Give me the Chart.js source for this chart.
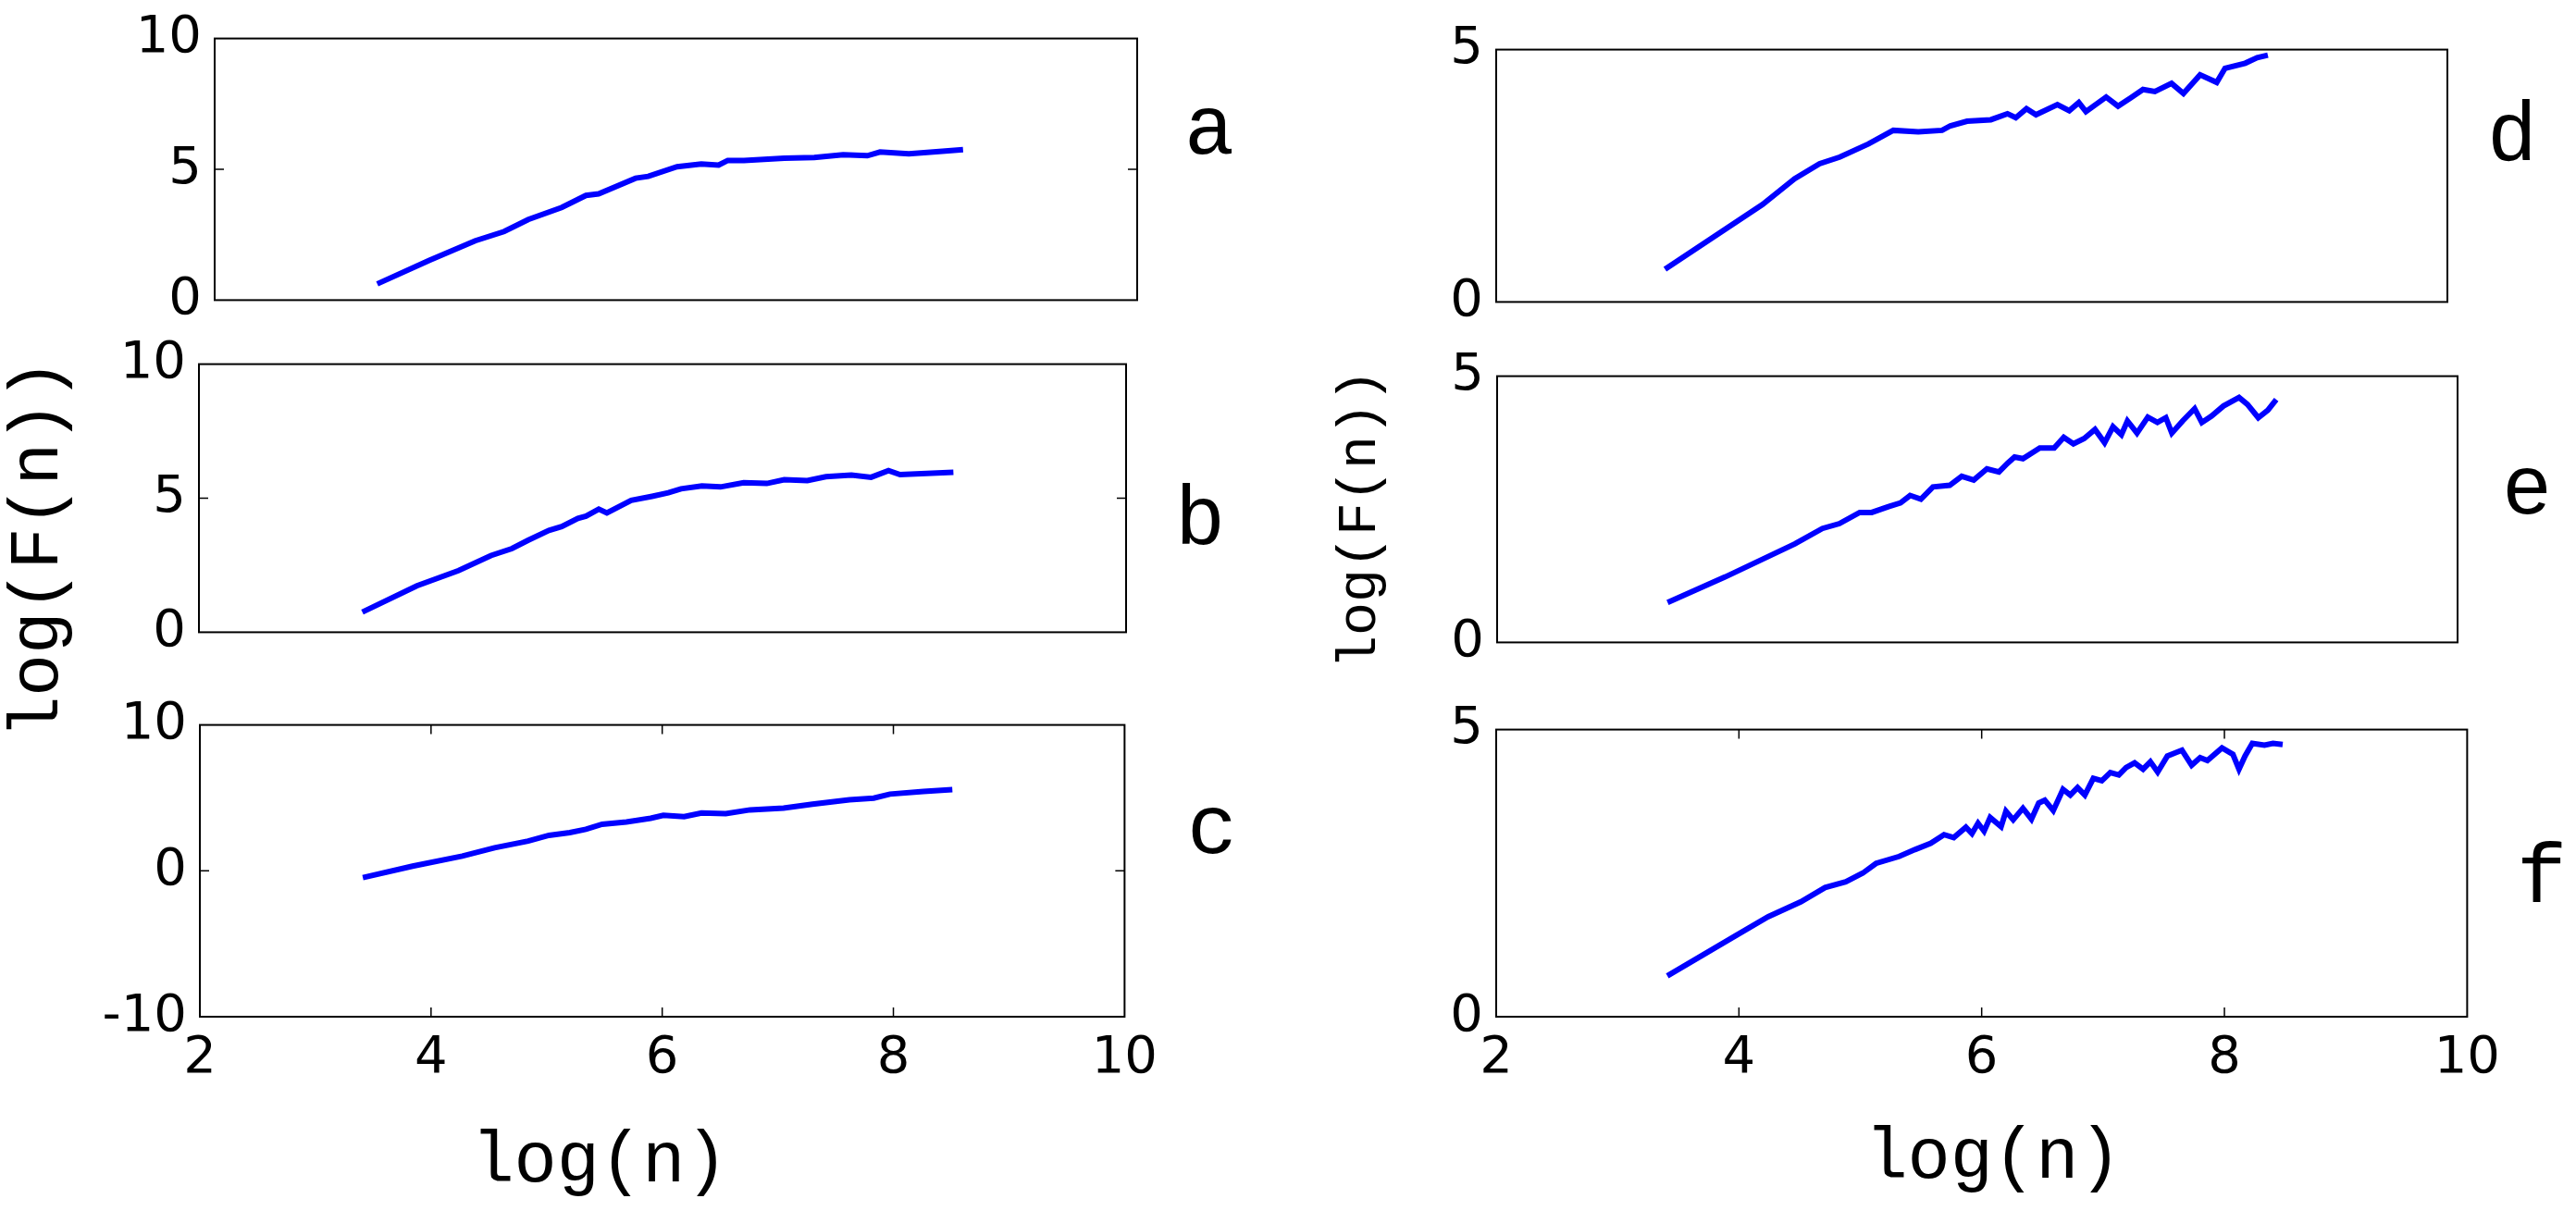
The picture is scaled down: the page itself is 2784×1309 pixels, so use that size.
<!DOCTYPE html>
<html>
<head>
<meta charset="utf-8">
<script src="https://cdn.jsdelivr.net/npm/chart.js@4/dist/chart.umd.min.js"></script>
<style>
  html, body { margin: 0; padding: 0; background: #fff; }
  #page { position: relative; width: 2784px; height: 1309px; overflow: hidden; background: #fff; }
  .panel { position: absolute; }
  .txt { position: absolute; white-space: nowrap; line-height: 1; color: #000; font-family: 'Liberation Mono', 'Courier New', monospace; }
</style>
</head>
<body>
<div id="page"></div>
<script>
// x axis (log n) ticks, shared by all panels
const xTicks = [2, 4, 6, 8, 10];
const yTicksAB = [0, 5, 10];
const yTicksC = [-10, 0, 10];
const yTicksDEF = [0, 5];

// panel a
const xa = [3.41, 3.86, 4.26, 4.51, 4.72, 5.01, 5.22, 5.33, 5.65, 5.76, 6.01, 6.22, 6.37, 6.45, 6.59, 6.94, 7.2, 7.45, 7.66, 7.77, 8.02, 8.31, 8.49];
const ya = [0.62, 1.52, 2.27, 2.62, 3.08, 3.54, 4.0, 4.06, 4.66, 4.73, 5.1, 5.2, 5.16, 5.34, 5.34, 5.42, 5.45, 5.56, 5.52, 5.66, 5.59, 5.69, 5.75];
// panel b
const xb = [3.41, 3.88, 4.24, 4.52, 4.70, 4.84, 5.02, 5.13, 5.27, 5.34, 5.45, 5.52, 5.73, 5.91, 6.05, 6.16, 6.34, 6.5, 6.7, 6.9, 7.05, 7.25, 7.41, 7.63, 7.8, 7.95, 8.05, 8.51];
const yb = [0.75, 1.73, 2.30, 2.86, 3.12, 3.43, 3.80, 3.94, 4.25, 4.33, 4.59, 4.45, 4.92, 5.07, 5.20, 5.35, 5.46, 5.42, 5.58, 5.55, 5.69, 5.66, 5.80, 5.86, 5.78, 6.03, 5.88, 5.97];
// panel c
const xc = [3.41, 3.84, 4.27, 4.55, 4.84, 5.02, 5.2, 5.34, 5.48, 5.69, 5.9, 6.01, 6.19, 6.34, 6.55, 6.76, 7.05, 7.3, 7.62, 7.83, 7.97, 8.26, 8.51];
const yc = [-0.46, 0.32, 1.01, 1.58, 2.04, 2.43, 2.62, 2.85, 3.19, 3.35, 3.6, 3.81, 3.72, 3.97, 3.92, 4.18, 4.3, 4.57, 4.87, 4.98, 5.26, 5.44, 5.56];
// panel d
const xd = [3.42, 4.24, 4.51, 4.72, 4.89, 5.13, 5.34, 5.55, 5.75, 5.82, 5.96, 6.16, 6.30, 6.37, 6.46, 6.54, 6.72, 6.82, 6.90, 6.96, 7.13, 7.23, 7.34, 7.44, 7.54, 7.68, 7.78, 7.92, 8.06, 8.13, 8.30, 8.40, 8.49];
const yd = [0.65, 1.93, 2.44, 2.74, 2.87, 3.13, 3.40, 3.37, 3.40, 3.49, 3.58, 3.61, 3.73, 3.65, 3.83, 3.71, 3.91, 3.79, 3.95, 3.77, 4.06, 3.88, 4.05, 4.21, 4.17, 4.33, 4.13, 4.50, 4.35, 4.63, 4.73, 4.84, 4.89];
// panel e
const xe = [3.42, 3.90, 4.48, 4.71, 4.85, 5.02, 5.12, 5.26, 5.36, 5.44, 5.53, 5.63, 5.77, 5.87, 5.97, 6.08, 6.18, 6.25, 6.31, 6.38, 6.52, 6.64, 6.72, 6.80, 6.89, 6.98, 7.06, 7.13, 7.20, 7.25, 7.33, 7.42, 7.50, 7.57, 7.62, 7.71, 7.81, 7.87, 7.95, 8.05, 8.18, 8.25, 8.34, 8.42, 8.49];
const ye = [0.75, 1.23, 1.85, 2.14, 2.23, 2.44, 2.44, 2.55, 2.62, 2.76, 2.69, 2.92, 2.95, 3.12, 3.05, 3.26, 3.20, 3.36, 3.48, 3.45, 3.65, 3.65, 3.85, 3.73, 3.83, 4.0, 3.75, 4.05, 3.90, 4.16, 3.93, 4.23, 4.13, 4.22, 3.93, 4.16, 4.39, 4.13, 4.25, 4.44, 4.60, 4.47, 4.22, 4.36, 4.56];
// panel f
const xf = [3.41, 3.98, 4.24, 4.51, 4.71, 4.88, 5.02, 5.13, 5.32, 5.45, 5.58, 5.69, 5.77, 5.87, 5.92, 5.97, 6.02, 6.07, 6.16, 6.20, 6.26, 6.34, 6.41, 6.47, 6.52, 6.59, 6.67, 6.73, 6.79, 6.85, 6.92, 6.99, 7.06, 7.13, 7.19, 7.26, 7.33, 7.39, 7.45, 7.53, 7.60, 7.65, 7.73, 7.80, 7.86, 7.98, 8.07, 8.12, 8.17, 8.23, 8.33, 8.40, 8.48];
const yf = [0.71, 1.42, 1.74, 2.0, 2.25, 2.35, 2.50, 2.67, 2.79, 2.91, 3.02, 3.17, 3.12, 3.30, 3.19, 3.37, 3.23, 3.47, 3.31, 3.58, 3.43, 3.63, 3.44, 3.72, 3.77, 3.59, 3.96, 3.86, 3.99, 3.86, 4.15, 4.11, 4.25, 4.21, 4.34, 4.42, 4.31, 4.44, 4.26, 4.54, 4.60, 4.64, 4.38, 4.51, 4.46, 4.68, 4.57, 4.31, 4.54, 4.76, 4.73, 4.76, 4.74];

const page = document.getElementById('page');
const tickFont = { family: "'DejaVu Sans', sans-serif", size: 56 };

// box + inward ticks, as in the original figure
const framePlugin = {
    id: 'frame',
    afterDraw(chart, args, opts) {
        const { ctx, chartArea } = chart;
        const { left, right, top, bottom } = chartArea;
        const x = chart.scales.x, y = chart.scales.y;
        ctx.save();
        ctx.strokeStyle = '#000';
        ctx.lineWidth = 1.5;
        y.ticks.forEach(t => {
            const py = y.getPixelForValue(t.value);
            if (py > top + 2 && py < bottom - 2) {
                ctx.beginPath();
                ctx.moveTo(left, py); ctx.lineTo(left + 10, py);
                ctx.moveTo(right, py); ctx.lineTo(right - 10, py);
                ctx.stroke();
            }
        });
        if (opts.xTicks) {
            x.ticks.forEach(t => {
                const px = x.getPixelForValue(t.value);
                if (px > left + 2 && px < right - 2) {
                    ctx.beginPath();
                    ctx.moveTo(px, bottom); ctx.lineTo(px, bottom - 10);
                    ctx.moveTo(px, top); ctx.lineTo(px, top + 10);
                    ctx.stroke();
                }
            });
        }
        ctx.lineWidth = 2;
        ctx.strokeRect(left, top, right - left, bottom - top);
        ctx.restore();
    }
};

function makePanel(rect, xs, ys, yTicks, showX) {
    const YW = 130, PAD = 45, XH = 90;
    const L = rect[0], T = rect[1], R = rect[2], B = rect[3];
    const w = (R - L) + YW + PAD;
    const h = (B - T) + PAD + (showX ? XH : PAD);
    const canvas = document.createElement('canvas');
    canvas.className = 'panel';
    canvas.width = w; canvas.height = h;
    canvas.style.left = (L - YW) + 'px';
    canvas.style.top = (T - PAD) + 'px';
    canvas.style.width = w + 'px';
    canvas.style.height = h + 'px';
    page.appendChild(canvas);

    new Chart(canvas, {
        type: 'line',
        data: {
            datasets: [{
                data: xs.map((v, i) => ({ x: v, y: ys[i] })),
                borderColor: '#0000ff',
                borderWidth: 6,
                pointRadius: 0,
                tension: 0,
                fill: false
            }]
        },
        options: {
            responsive: false,
            animation: false,
            events: [],
            layout: { padding: { top: PAD, right: PAD, bottom: showX ? 0 : PAD, left: 0 } },
            scales: {
                x: {
                    type: 'linear',
                    display: showX,
                    min: xTicks[0],
                    max: xTicks[xTicks.length - 1],
                    afterBuildTicks: s => { s.ticks = xTicks.map(v => ({ value: v })); },
                    afterFit: s => { s.height = showX ? XH : 0; },
                    grid: { display: false, drawTicks: false },
                    border: { display: false },
                    ticks: { font: tickFont, color: '#000', padding: 12, maxRotation: 0, autoSkip: false }
                },
                y: {
                    type: 'linear',
                    min: yTicks[0],
                    max: yTicks[yTicks.length - 1],
                    afterBuildTicks: s => { s.ticks = yTicks.map(v => ({ value: v })); },
                    afterFit: s => { s.width = YW; },
                    grid: { display: false, drawTicks: false },
                    border: { display: false },
                    ticks: { font: tickFont, color: '#000', padding: 14, autoSkip: false }
                }
            },
            plugins: {
                legend: { display: false },
                tooltip: { enabled: false },
                frame: { xTicks: showX }
            }
        },
        plugins: [framePlugin]
    });
}

makePanel([232, 39, 1229, 327], xa, ya, yTicksAB, false);
makePanel([215, 391, 1217, 686], xb, yb, yTicksAB, false);
makePanel([216, 781, 1218, 1099], xc, yc, yTicksC, true);
makePanel([1617, 51, 2645, 329], xd, yd, yTicksDEF, false);
makePanel([1618, 404, 2656, 697], xe, ye, yTicksDEF, false);
makePanel([1617, 786, 2669, 1099], xf, yf, yTicksDEF, true);

// text labels (Liberation Mono, line-height 1 -> baseline at top + 0.766em)
function textAt(str, size, cx, y, mode, rotate) {
    const d = document.createElement('div');
    d.className = 'txt';
    d.textContent = str;
    d.style.fontSize = size + 'px';
    d.style.left = cx + 'px';
    if (mode === 'baseline') {
        d.style.top = (y - 0.766 * size) + 'px';
        d.style.transform = 'translateX(-50%)';
    } else {
        d.style.top = y + 'px';
        d.style.transform = 'translate(-50%, -50%)' + (rotate ? ' rotate(-90deg)' : '');
    }
    page.appendChild(d);
}

textAt('a', 90, 1307, 166, 'baseline');
textAt('b', 90, 1297, 588, 'baseline');
textAt('c', 90, 1310, 922, 'baseline');
textAt('d', 90, 2715, 173, 'baseline');
textAt('e', 90, 2731, 555, 'baseline');
textAt('f', 90, 2747, 975, 'baseline');

textAt('log(n)', 77, 648, 1256, 'center');
textAt('log(n)', 77, 2154, 1252, 'center');
textAt('log(F(n))', 76, 42, 593, 'center', true);
textAt('log(F(n))', 60, 1470, 561, 'center', true);
</script>
</body>
</html>
